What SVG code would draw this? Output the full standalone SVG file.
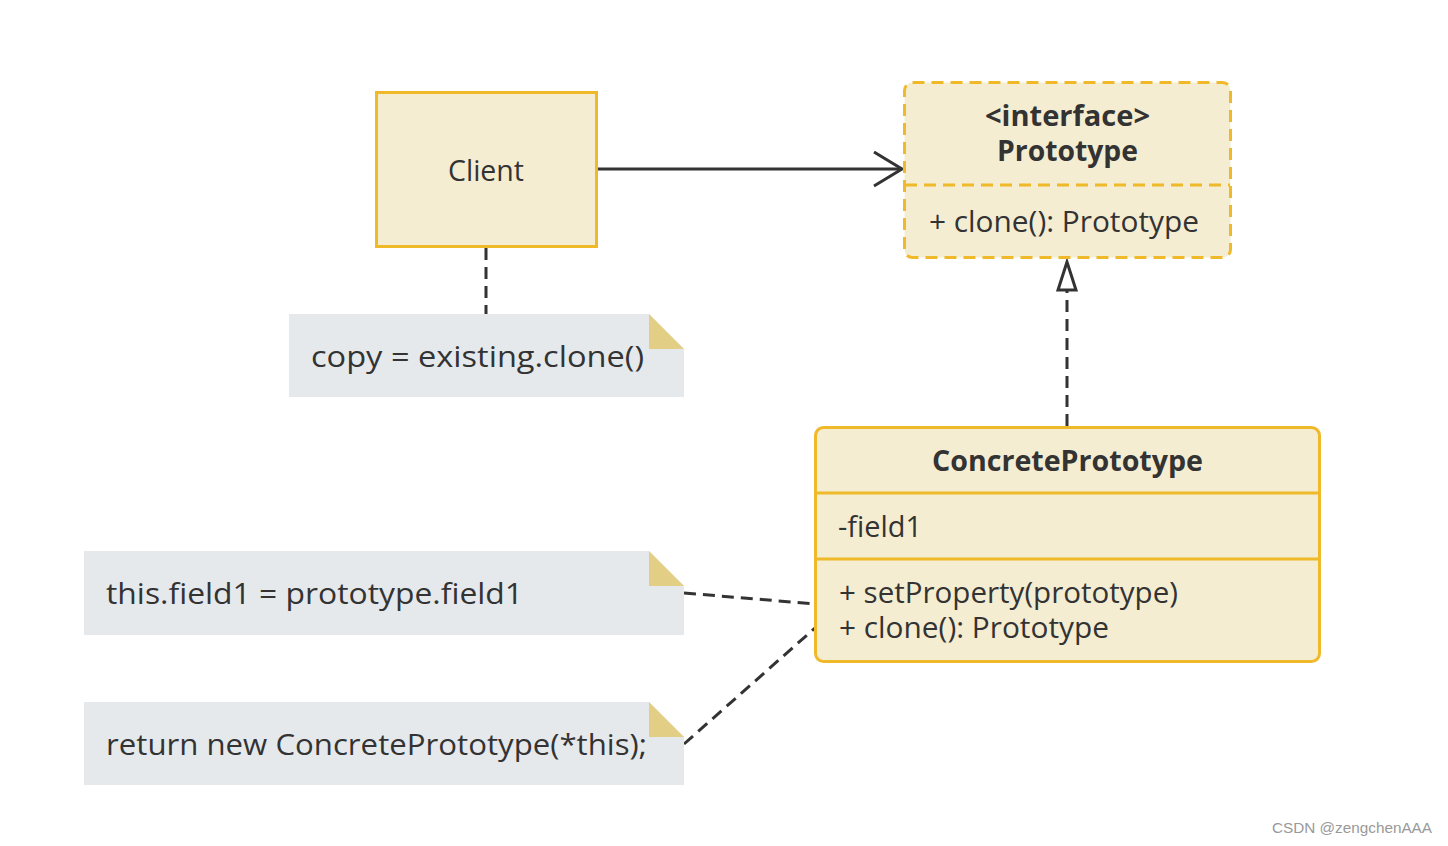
<svg xmlns="http://www.w3.org/2000/svg" width="1448" height="846" viewBox="0 0 1448 846">
<style>
.box{fill:#F5EDD1;stroke:#F0B92A;stroke-width:3}
.dash{stroke-dasharray:12 7}
.div{stroke:#F0B92A;stroke-width:3}
.t{font-family:"Open Sans","Noto Sans",sans-serif;font-size:29px;fill:#333}
.b{font-weight:bold;font-size:28px}
.note{fill:#E6E9EC}
.fold{fill:#E3CE85}
.c{stroke:#333;stroke-width:3;fill:none}
</style>
<defs>
<marker id="open" markerWidth="32" markerHeight="40" refX="29" refY="18" orient="auto" markerUnits="userSpaceOnUse">
<path d="M1 1 L29 18 L1 35" fill="none" stroke="#333" stroke-width="3"/>
</marker>
</defs>
<rect width="1448" height="846" fill="#fff"/>
<g id="connectors">
<line class="c" x1="597" y1="169" x2="902" y2="169" marker-end="url(#open)"/>
<line class="c dash" x1="486" y1="248" x2="486" y2="314"/>
<line class="c dash" x1="1067" y1="426" x2="1067" y2="290"/>
<path d="M1067 262 L1076 290 L1058 290 Z" fill="#fff" stroke="#333" stroke-width="3"/>
<line class="c dash" x1="684" y1="593" x2="815" y2="604"/>
<line class="c dash" x1="684" y1="744" x2="815" y2="628"/>
</g>
<g id="client">
<rect class="box" x="376.5" y="92.5" width="220" height="154"/>
<text class="t" x="448" y="181" textLength="76" lengthAdjust="spacingAndGlyphs">Client</text>
</g>
<g id="prototype">
<rect class="box dash" x="904.5" y="82.5" width="326" height="175" rx="8"/>
<line class="div dash" x1="905" y1="185" x2="1230" y2="185"/>
<text class="t b" x="985" y="126" textLength="165" lengthAdjust="spacingAndGlyphs">&lt;interface&gt;</text>
<text class="t b" x="997" y="161" textLength="141" lengthAdjust="spacingAndGlyphs">Prototype</text>
<text class="t" x="929" y="232" textLength="270" lengthAdjust="spacingAndGlyphs">+ clone(): Prototype</text>
</g>
<g id="concrete">
<rect class="box" x="815.5" y="427.5" width="504" height="234" rx="8"/>
<line class="div" x1="816" y1="493" x2="1319" y2="493"/>
<line class="div" x1="816" y1="559" x2="1319" y2="559"/>
<text class="t b" x="932" y="471" textLength="271" lengthAdjust="spacingAndGlyphs">ConcretePrototype</text>
<text class="t" x="838" y="537" textLength="84" lengthAdjust="spacingAndGlyphs">-field1</text>
<text class="t" x="839" y="603" textLength="339" lengthAdjust="spacingAndGlyphs">+ setProperty(prototype)</text>
<text class="t" x="839" y="638" textLength="270" lengthAdjust="spacingAndGlyphs">+ clone(): Prototype</text>
</g>
<g id="note1">
<path class="note" d="M289 314 H649 L684 349 V397 H289 Z"/>
<path class="fold" d="M649 314 L684 349 H649 Z"/>
<text class="t" x="311" y="367" textLength="333" lengthAdjust="spacingAndGlyphs">copy = existing.clone()</text>
</g>
<g id="note2">
<path class="note" d="M84 551 H649 L684 586 V635 H84 Z"/>
<path class="fold" d="M649 551 L684 586 H649 Z"/>
<text class="t" x="106" y="604" textLength="417" lengthAdjust="spacingAndGlyphs">this.field1 = prototype.field1</text>
</g>
<g id="note3">
<path class="note" d="M84 702 H649 L684 737 V785 H84 Z"/>
<path class="fold" d="M649 702 L684 737 H649 Z"/>
<text class="t" x="106" y="755" textLength="541" lengthAdjust="spacingAndGlyphs">return new ConcretePrototype(*this);</text>
</g>
<text x="1272" y="833" font-family="'Liberation Sans',sans-serif" font-size="15" fill="#999" textLength="160" lengthAdjust="spacingAndGlyphs">CSDN @zengchenAAA</text>
</svg>
